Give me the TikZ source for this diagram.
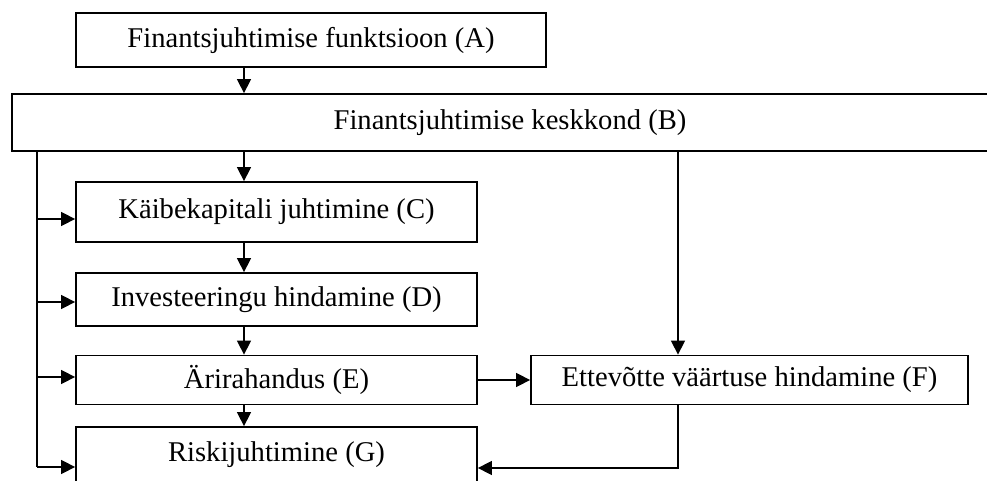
\documentclass[tikz,border=0pt]{standalone}
\usepackage{fontspec}
\setmainfont{Liberation Serif}
\usetikzlibrary{arrows.meta}

\begin{document}
\begin{tikzpicture}[x=0.5pt,y=-0.5pt]
	\tikzstyle{box}=[draw, rectangle, line width=0.9pt, inner sep=0pt, minimum width=200.5pt, font=\fontsize{14.3}{17}\selectfont]
	\tikzstyle{arr}=[-{Triangle[length=7pt,width=7pt]}, line width=0.75pt]
	\clip (0,0) rectangle (987,481);
	\draw (311,40) node[box, minimum width=235pt, minimum height=27pt] (A) {Finantsjuhtimise funktsioon (A)};
	\draw (510,122.5) node[box, minimum width=498pt, minimum height=28.5pt] (B) {Finantsjuhtimise keskkond (B)};
	\draw (276.5,212) node[box, minimum height=30pt] (C) {Käibekapitali juhtimine (C)};
	\draw (276.5,299.5) node[box, minimum height=26.5pt] (D) {Investeeringu hindamine (D)};
	\draw (276.5,380) node[box, minimum height=24.5pt] (E) {Ärirahandus (E)};
	\draw (749.5,380) node[box, minimum width=218.5pt, minimum height=24.5pt] (F) {Ettevõtte väärtuse hindamine (F)};
	\draw (276.5,455) node[box, minimum height=28pt] (G) {Riskijuhtimine (G)};
	\coordinate (spine) at (244,0);
	\coordinate (fline) at (678,0);
	\coordinate (trunk) at (37,467);
	\coordinate (cin) at ([yshift=-3.5pt]C.west);
	\coordinate (din) at ([yshift=-1.25pt]D.west);
	\coordinate (ein) at ([yshift=1.5pt]E.west);
	\coordinate (gL) at ([yshift=-6pt]G.west);
	\coordinate (gR) at ([yshift=-6.5pt]G.east);
	\foreach \a/\b in {A/B, B/C, C/D, D/E, E/G}
		\draw[arr] (\a.south -| spine) -- (\b.north -| spine);
	\draw[line width=0.75pt] (B.south -| trunk) -- (trunk);
	\foreach \p in {cin, din, ein, gL}
		\draw[arr] (\p -| trunk) -- (\p);
	\draw[arr] (B.south -| fline) -- (F.north -| fline);
	\draw[arr] (E) -- (F);
	\draw[arr] (F.south -| fline) |- (gR);
\end{tikzpicture}
\end{document}
